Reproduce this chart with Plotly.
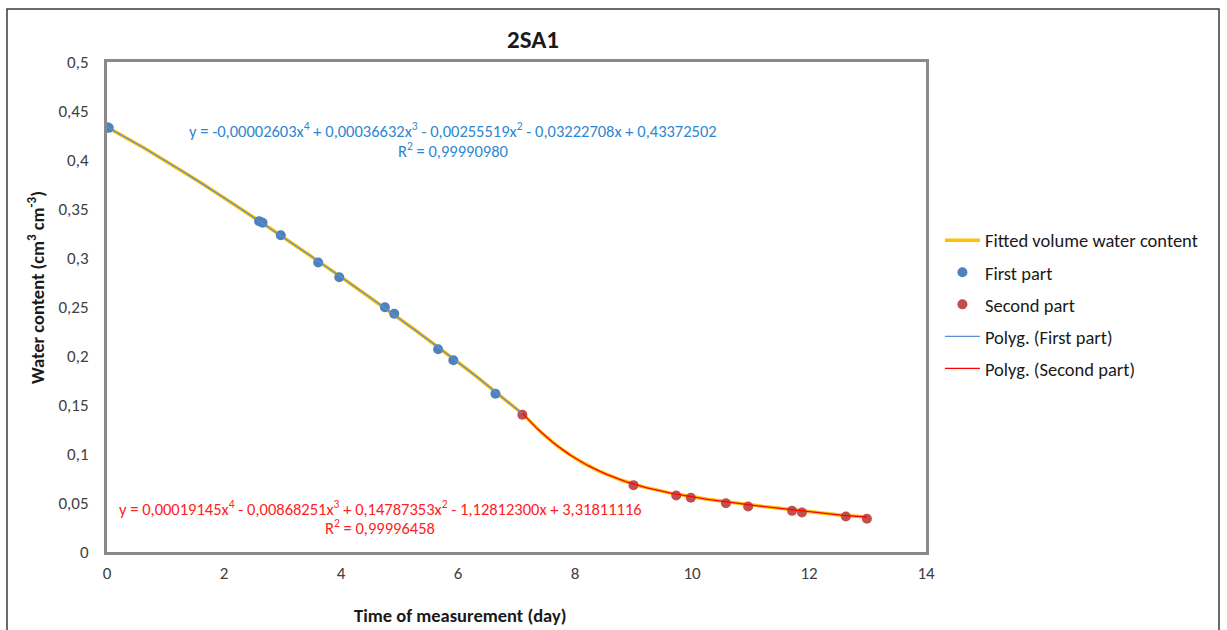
import numpy as np
import plotly.graph_objects as go

# ---- data ----
first_x = [0.0, 0.03, 2.60, 2.66, 2.97, 3.61, 3.97, 4.75, 4.91, 5.66, 5.92, 6.64]
first_y = [0.4335, 0.4328, 0.3376, 0.3359, 0.3233, 0.2954, 0.2804, 0.2498, 0.2431, 0.2069, 0.1957, 0.1614]

second_x = [7.10, 9.00, 9.73, 9.98, 10.58, 10.96, 11.71, 11.88, 12.63, 12.99]
second_y = [0.1400, 0.0682, 0.0577, 0.0553, 0.0498, 0.0464, 0.0420, 0.0403, 0.0362, 0.0339]

# trendline coefficients as printed on the chart (highest power first)
coef_first = [-0.00002603, 0.00036632, -0.00255519, -0.03222708, 0.43372502]
coef_second = [0.00019145, -0.00868251, 0.14787353, -1.12812300, 3.31811116]
r2_first = "0,99990980"
r2_second = "0,99996458"

x_ticks = [0, 2, 4, 6, 8, 10, 12, 14]
y_ticks = [0, 0.05, 0.1, 0.15, 0.2, 0.25, 0.3, 0.35, 0.4, 0.45, 0.5]

title = "2SA1"
x_title = "Time of measurement (day)"
y_title = "Water content (cm<sup>3</sup> cm<sup>-3</sup>)"

FONT = "Carlito, Lato, 'Open Sans', sans-serif"

# trendline curves over the data range of each part
xs1 = np.linspace(min(first_x), second_x[0], 200)
ys1 = np.polyval(coef_first, xs1)
xs2 = np.linspace(second_x[0], max(second_x), 200)
ys2 = np.polyval(coef_second, xs2)

fig = go.Figure()
fig.add_trace(go.Scatter(x=np.concatenate([xs1, xs2]), y=np.concatenate([ys1, ys2]),
                         mode="lines", name="Fitted volume water content",
                         line=dict(color="#FFC000", width=3.5), legendgroup="a"))
fig.add_trace(go.Scatter(x=first_x, y=first_y, mode="markers", name="First part",
                         marker=dict(color="#4F81BD", size=10), legendgroup="b"))
fig.add_trace(go.Scatter(x=second_x, y=second_y, mode="markers", name="Second part",
                         marker=dict(color="#C0504D", size=10), legendgroup="c"))
fig.add_trace(go.Scatter(x=xs1, y=ys1, mode="lines", name="Polyg. (First part)",
                         line=dict(color="#5B8FD6", width=1.2), legendgroup="d"))
fig.add_trace(go.Scatter(x=xs2, y=ys2, mode="lines", name="Polyg. (Second part)",
                         line=dict(color="#FF0000", width=1.3), legendgroup="e"))


def fmt(c):
    return f"{abs(c):.8f}".replace(".", ",")


def equation(coef):
    terms = ["x<sup>4</sup>", "x<sup>3</sup>", "x<sup>2</sup>", "x", ""]
    s = "y = " + ("-" if coef[0] < 0 else "") + fmt(coef[0]) + terms[0]
    for c, t in zip(coef[1:], terms[1:]):
        s += (" - " if c < 0 else " + ") + fmt(c) + t
    return s


axis_common = dict(showgrid=False, zeroline=False, showline=True, mirror=True,
                   linewidth=3, linecolor="#8A8A8A", layer="below traces",
                   ticks="outside", tickcolor="rgba(0,0,0,0)",
                   tickfont=dict(family=FONT, size=17, color="#404040"))

fig.update_layout(
    width=1227, height=630,
    margin=dict(l=107, r=301, t=62, b=78),
    paper_bgcolor="white", plot_bgcolor="white",
    separators=", ",
    showlegend=True,
    legend=dict(x=1.017, y=0.674, xanchor="left", yanchor="top",
                font=dict(family=FONT, size=18.5, color="#1a1a1a"),
                tracegroupgap=5, itemwidth=35, bgcolor="rgba(0,0,0,0)"),
    xaxis=dict(range=[0, 14], tickvals=x_ticks, ticklen=4, **axis_common),
    yaxis=dict(range=[0, 0.5], tickvals=y_ticks, ticklen=12, **axis_common),
    hovermode=False,
)

eq_font_blue = dict(family=FONT, size=16.5, color="#2F86D0")
eq_font_red = dict(family=FONT, size=16.5, color="#FF2222")
fig.add_annotation(text=equation(coef_first), x=5.91, y=0.4302, xref="x", yref="y",
                   showarrow=False, xanchor="center", yanchor="middle", font=eq_font_blue)
fig.add_annotation(text="R<sup>2</sup> = " + r2_first, x=5.91, y=0.4100, xref="x", yref="y",
                   showarrow=False, xanchor="center", yanchor="middle", font=eq_font_blue)
fig.add_annotation(text=equation(coef_second), x=4.67, y=0.0445, xref="x", yref="y",
                   showarrow=False, xanchor="center", yanchor="middle", font=eq_font_red)
fig.add_annotation(text="R<sup>2</sup> = " + r2_second, x=4.67, y=0.0253, xref="x", yref="y",
                   showarrow=False, xanchor="center", yanchor="middle", font=eq_font_red)

fig.add_annotation(text="<b>" + title + "</b>", x=(533 - 107) / 819, y=(552 - 39) / 490,
                   xref="paper", yref="paper", showarrow=False,
                   xanchor="center", yanchor="middle",
                   font=dict(family=FONT, size=25, color="#1a1a1a"))
fig.add_annotation(text="<b>" + x_title + "</b>", x=(460 - 107) / 819, y=(552 - 615) / 490,
                   xref="paper", yref="paper", showarrow=False,
                   xanchor="center", yanchor="middle",
                   font=dict(family=FONT, size=18.5, color="#1a1a1a"))
fig.add_annotation(text="<b>" + y_title + "</b>", x=(36 - 107) / 819, y=(552 - 288) / 490,
                   xref="paper", yref="paper", showarrow=False, textangle=-90,
                   xanchor="center", yanchor="middle",
                   font=dict(family=FONT, size=18.5, color="#1a1a1a"))

# outer chart frame
fig.add_shape(type="rect", xref="paper", yref="paper",
              x0=(7 - 107) / 819, x1=(1219 - 107) / 819,
              y0=(552 - 660) / 490, y1=(552 - 9) / 490,
              line=dict(color="#3a3a3a", width=1.5), layer="below")

fig.write_html("out.html")
